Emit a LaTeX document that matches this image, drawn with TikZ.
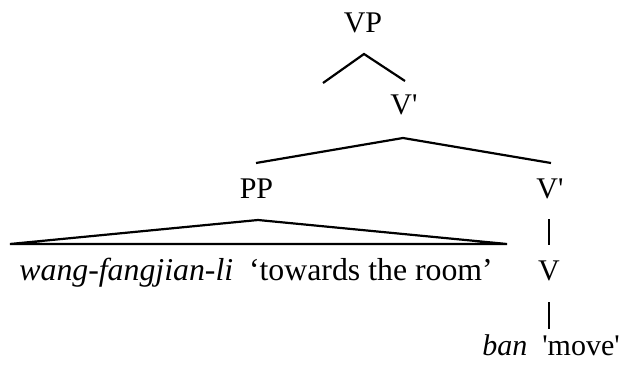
\documentclass[tikz,border=0pt]{standalone}
\usepackage{fontspec}
\newfontfamily\tnr{Liberation Serif}
\begin{document}
\begin{tikzpicture}[x=1pt,y=-1pt,
  lbl/.style={font=\tnr\fontsize{30}{36}\selectfont, inner sep=0pt, anchor=base},
  wide/.style={font=\tnr\fontsize{31.8}{38}\selectfont},
  br/.style={line width=2.2pt, line join=miter}]
\useasboundingbox (0,0) rectangle (625,369);
\fill[white] (0,0) rectangle (625,369);
% labels
\node[lbl] (vp) at (363,33) {VP};
\node[lbl] (vbar1) at (404,115) {V'};
\node[lbl] (pp) at (256.5,199) {PP};
\node[lbl] (vbar2) at (550,199) {V'};
\node[lbl, wide, anchor=base east] (ppt) at (493,280) {\itshape wang-fangjian-li\upshape\ \ ‘towards the room’};
\node[lbl] (v) at (549,280) {V};
\node[lbl] (ban) at (551,355) {\itshape ban\upshape\ \ 'move'};
% branch points
\coordinate (a1) at (364,54);
\coordinate (a1l) at (323,83);
\coordinate (a1r) at (405,81);
\coordinate (a2) at (403,138);
\coordinate (a2l) at (256,163);
\coordinate (a2r) at (551,163);
\coordinate (t) at (258,220);
\coordinate (tl) at (10,244);
\coordinate (tr) at (507,244);
\coordinate (s1a) at (549,219);
\coordinate (s1b) at (549,245);
\coordinate (s2a) at (549,302);
\coordinate (s2b) at (549,329);
\draw[br] (a1l) -- (a1) -- (a1r);
\draw[br] (a2l) -- (a2) -- (a2r);
\draw[br] (tl) -- (t) -- (tr) -- cycle;
\draw[br] (s1a) -- (s1b);
\draw[br] (s2a) -- (s2b);
\end{tikzpicture}
\end{document}
